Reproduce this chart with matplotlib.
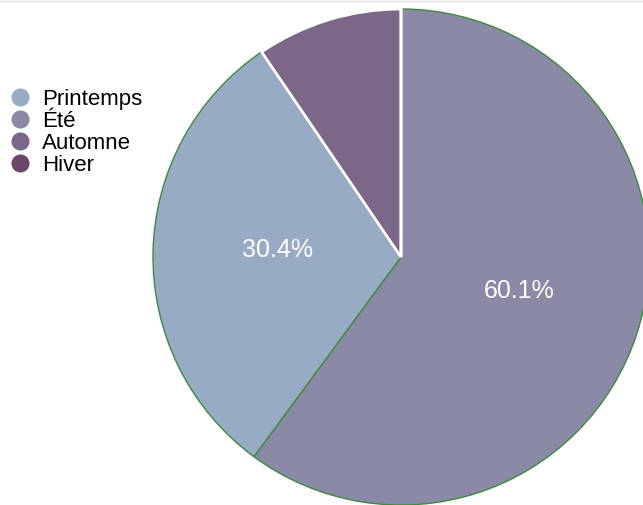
import matplotlib.pyplot as plt
from matplotlib.lines import Line2D
from matplotlib.transforms import offset_copy

plt.rcParams['font.family'] = ['Liberation Sans', 'DejaVu Sans']

# données
saisons = ['Printemps', 'Été', 'Automne', 'Hiver']
valeurs = [30.4, 60.1, 9.5, 0.0]
couleurs = ['#98abc5', '#8a89a6', '#7b6888', '#6b486b']
bords = ['#3d8b3d', '#3d8b3d', 'white', 'white']
epaisseurs = [1.0, 1.0, 2.0, 2.0]

# ordre décroissant, sens horaire depuis midi
ordre = sorted(range(len(valeurs)), key=lambda i: -valeurs[i])

fig = plt.figure(figsize=(6.43, 5.05), dpi=100)
ax = fig.add_axes([0, 0, 1, 1])

total = sum(valeurs)
wedges, texts = ax.pie([valeurs[i] for i in ordre],
                       colors=[couleurs[i] for i in ordre],
                       startangle=90, counterclock=False,
                       center=(401, 248), radius=248,
                       labels=[f'{valeurs[i] / total * 100:.1f}%' if valeurs[i] / total > 0.15 else ''
                               for i in ordre],
                       labeldistance=0.5, frame=True,
                       textprops=dict(color='white', fontsize=18))
for w, i in zip(wedges, ordre):
    w.set_edgecolor(bords[i])
    w.set_linewidth(epaisseurs[i])
for t in texts:
    t.set_ha('center')
    t.set_va('center')
    t.set_transform(offset_copy(ax.transData, fig=fig, x=0, y=5, units='dots'))
ax.set_xlim(0, 643)
ax.set_ylim(0, 505)
ax.set_aspect('equal')
ax.axis('off')

# légende
poignees = [Line2D([], [], marker='o', linestyle='', markersize=12,
                   markerfacecolor=c, markeredgecolor=c) for c in couleurs]
ax.legend(poignees, saisons, loc='upper left', bbox_to_anchor=(0.012, 0.824),
          frameon=False, fontsize=16, labelspacing=0.04, handletextpad=0.45,
          handlelength=1.1, borderaxespad=0, borderpad=0)

# trait gris en haut
fig.add_artist(Line2D([0, 1], [0.999, 0.999], color='#dddddd', lw=1))

fig.savefig('out.png', dpi=100)
